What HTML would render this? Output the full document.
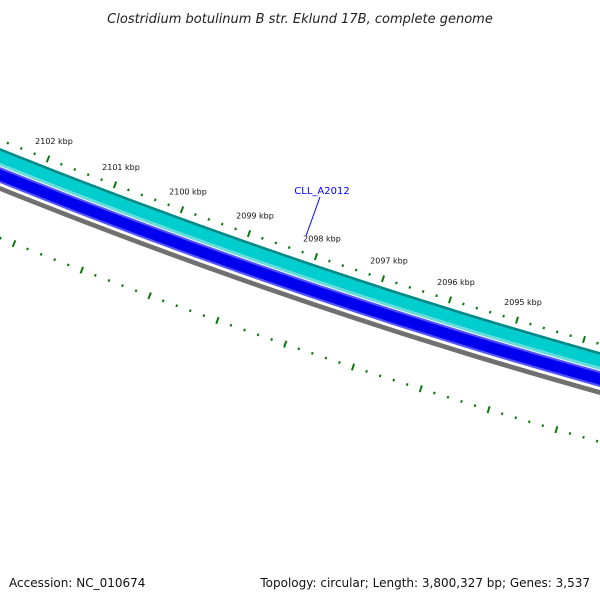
<!DOCTYPE html>
<html><head><meta charset="utf-8"><style>
body{margin:0;background:#fff}
svg{display:block;font-family:"DejaVu Sans","Liberation Sans",sans-serif}
</style></head><body>
<svg width="600" height="600" viewBox="0 0 600 600" xmlns="http://www.w3.org/2000/svg">
<rect width="600" height="600" fill="#fff"/>
<text x="300" y="23" text-anchor="middle" font-size="13" font-style="italic" fill="#222">Clostridium botulinum B str. Eklund 17B, complete genome</text>
<g id="bands"></g>
<g id="ticks"></g>
<g>
<line x1="320" y1="197" x2="306" y2="236" stroke="#0000ff" stroke-width="1"/>
<text x="322" y="194" text-anchor="middle" font-size="10" fill="#0000ff">CLL_A2012</text>
</g>
<text x="9" y="587" font-size="12" fill="#111">Accession: NC_010674</text>
<text x="590" y="587" text-anchor="end" font-size="12" fill="#111">Topology: circular; Length: 3,800,327 bp; Genes: 3,537</text>
</svg>
<script>
const bandNames=['cds-forward-edge','cds-forward','cds-forward-inner','cds-reverse-edge-outer','cds-reverse','cds-reverse-edge-inner','gc-content'];
const bandOffsets=[[0,3],[3,15],[15,18],[19,21],[21,33],[33,35],[38,43]];
const bandColors=['#008b8b','#00cdcd','#66dddd','#5050ff','#0000ee','#5050ff','#707070'];
const majorKbp=[2103,2102,2101,2100,2099,2098,2097,2096,2095,2094];
const labelKbp=[2102,2101,2100,2099,2098,2097,2096,2095];
const NS='http://www.w3.org/2000/svg';
const A=0.4017,B=-1.03e-4,Y0=148;
const curve=x=>Y0+A*x+B*x*x;
const slope=x=>A+2*B*x;
const bg=document.getElementById('bands');
bandOffsets.forEach((o,i)=>{
  const top=[],bot=[];
  for(let x=0;x<=600;x+=20){top.push(x+','+(curve(x)+o[0]).toFixed(2));bot.unshift(x+','+(curve(x)+o[1]).toFixed(2));}
  const p=document.createElementNS(NS,'polygon');
  p.setAttribute('points',top.concat(bot).join(' '));
  p.setAttribute('fill',bandColors[i]);
  
  
  bg.appendChild(p);
});
const tg=document.getElementById('ticks');
const kx=k=>48+(2102-k)*67;
const outerY=x=>curve(x)-8;
const innerX=k=>14+(2102-k)*67.8;
const innerY=x=>curve(x)+90;
function tick(x,y,len,name){
  const s=slope(x), n=Math.sqrt(1+s*s);
  const dx=s/n, dy=-1/n;
  const l=document.createElementNS(NS,'line');
  l.setAttribute('x1',x-dx*len/2);l.setAttribute('y1',y-dy*len/2);
  l.setAttribute('x2',x+dx*len/2);l.setAttribute('y2',y+dy*len/2);
  l.setAttribute('stroke','#0a7a0a');l.setAttribute('stroke-width',2);
  
  
  tg.appendChild(l);
}
majorKbp.forEach(k=>{
  for(let j=0;j<5;j++){
    const kk=k-j*0.2;
    const len=j===0?7:2.5;
    const xo=kx(kk); if(xo>-5&&xo<605) tick(xo,outerY(xo),len,j===0?'outer-major-tick':'outer-minor-tick');
    const xi=innerX(kk); if(xi>-5&&xi<605) tick(xi,innerY(xi),len,j===0?'inner-major-tick':'inner-minor-tick');
  }
});
labelKbp.forEach(k=>{
  const x=kx(k);
  const t=document.createElementNS(NS,'text');
  t.setAttribute('x',x+6);t.setAttribute('y',outerY(x)-15);
  t.setAttribute('text-anchor','middle');t.setAttribute('font-size','8');t.setAttribute('fill','#111');
  t.textContent=k+' kbp';
  
  
  tg.appendChild(t);
});
</script>
</body></html>
